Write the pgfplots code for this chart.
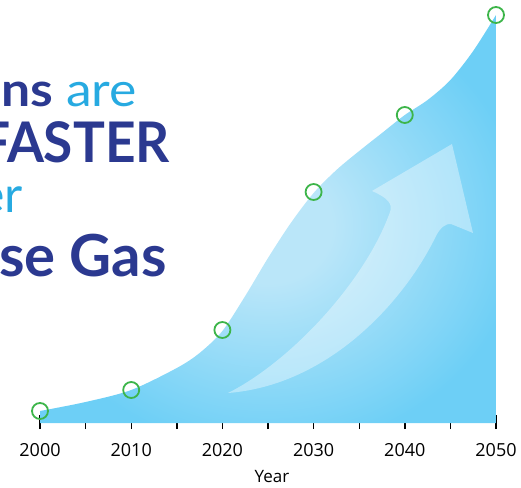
\documentclass[border=0pt]{standalone}
\usepackage{fontspec}
\usepackage{pgfplots}
\pgfplotsset{compat=1.18}
\newfontfamily\headfont{Lato}
\newfontfamily\headfontA[FakeStretch=1.1]{Lato}
\newfontfamily\headfontB[FakeStretch=0.95]{Lato}
\newfontfamily\tickfont{Open Sans}
\definecolor{navy}{HTML}{2B3990}
\definecolor{cyanlt}{HTML}{27AAE1}
\definecolor{sky}{HTML}{6DCFF6}
\definecolor{skylight}{HTML}{BAE6F9}
\definecolor{ringgreen}{HTML}{3DB54A}
\pgfdeclareradialshading{glow}{\pgfpoint{0bp}{-1bp}}{%
  color(0bp)=(skylight); color(7bp)=(skylight); color(28bp)=(sky); color(50bp)=(sky)}
\begin{document}
\begin{tikzpicture}
\useasboundingbox (0,0) rectangle (521pt,487pt);
\clip (0,0) rectangle (521pt,487pt);
\begin{axis}[
    at={(40pt,64pt)}, anchor=south west,
    scale only axis, width=456pt, height=410pt,
    xmin=2000, xmax=2050, ymin=0, ymax=410,
    axis y line=none,
    axis x line*=bottom,
    x axis line style={draw=none},
    xtick={2000,2010,...,2050},
    minor xtick={2005,2015,...,2045},
    tick align=outside,
    major tick length=14pt, minor tick length=6pt,
    major tick style={black, line width=1.4pt, yshift=8pt},
    minor tick style={black, line width=1.4pt},
    xticklabel style={font=\tickfont\fontsize{18}{18}\selectfont, inner sep=0pt, yshift=-6pt},
    /pgf/number format/1000 sep={},
    /pgf/number format/assume math mode=true,
    xlabel={Year},
    every axis x label/.style={at={(rel axis cs:0.5,0)}, anchor=base,
        yshift=-59pt, xshift=4pt, font=\tickfont\fontsize{17}{17}\selectfont},
    clip=false,
]
% outline of the filled area
\addplot[draw=none, shade, shading=glow, smooth, tension=0.5] coordinates {
    (2000,12) (2005,21) (2010,33) (2015,55) (2017.5,70) (2020,92)
    (2022.5,127) (2025,165) (2027.5,200) (2030,230) (2032.5,253)
    (2035,272) (2037.5,290) (2040,308) (2042.5,323) (2045,343)
    (2047.5,372) (2050,408)
} \closedcycle;
% the decade markers
\addplot[only marks, mark=o, mark size=8pt, ringgreen, line width=1.8pt] coordinates {
    (2000,12) (2010,33) (2020,93) (2030,231) (2040,308) (2050,408)
};
\end{axis}
% decorative arrow and headline, in picture pixels (y downwards)
\begin{scope}[x=1pt, y=-1pt, yshift=487pt]
  \fill[white, opacity=0.38]
    (228,393) .. controls (290,362) and (365,282) .. (390,212)
    .. controls (393,204) and (388,198) .. (372,191)
    -- (452,144) -- (473,233) -- (451,224)
    .. controls (446,223) and (440,228) .. (436,236)
    .. controls (405,300) and (330,385) .. (228,393) -- cycle;
  \node[anchor=base east, inner sep=0pt, text=navy, font=\headfontA\bfseries\fontsize{47}{47}\selectfont]
    at (137,107) {Emissions \textcolor{cyanlt}{\mdseries are}};
  \node[anchor=base east, inner sep=0pt, text=navy, font=\headfontB\bfseries\fontsize{56}{56}\selectfont]
    at (170,163) {Rising FASTER};
  \node[anchor=base east, inner sep=0pt, text=cyanlt, font=\headfont\fontsize{50}{50}\selectfont]
    at (23,213) {than Ever};
  \node[anchor=base east, inner sep=0pt, text=navy, font=\headfont\bfseries\fontsize{58}{58}\selectfont]
    at (167,277) {Greenhouse Gas};
\end{scope}
\end{tikzpicture}
\end{document}
